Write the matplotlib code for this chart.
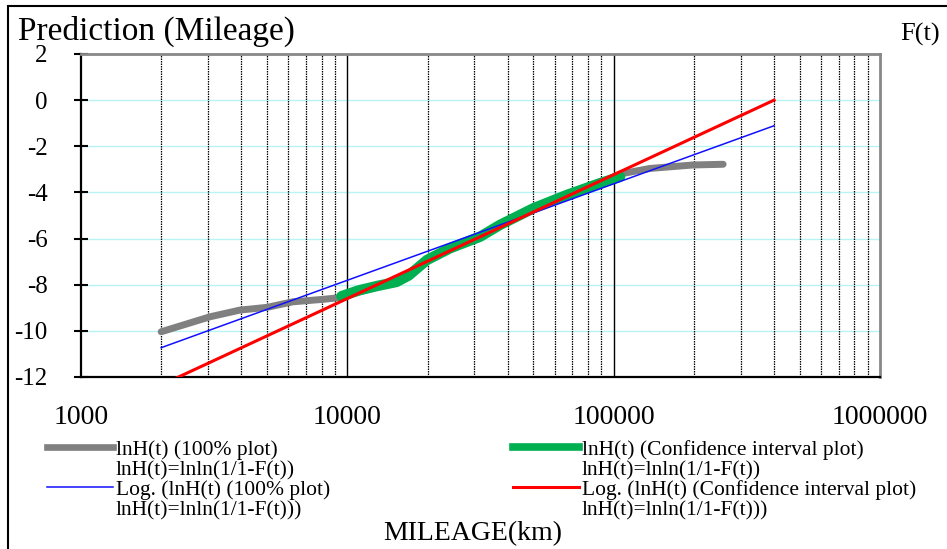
import matplotlib
matplotlib.use("Agg")
import matplotlib.pyplot as plt
from matplotlib.lines import Line2D
from matplotlib.patches import Rectangle
from matplotlib.ticker import FixedLocator, NullFormatter

plt.rcParams['font.family'] = ['Liberation Serif', 'DejaVu Serif']
plt.rcParams['axes.unicode_minus'] = False

# 100% plot (gray)
gray_x = [2000, 3050, 3950, 5000, 6250, 8000, 9400, 12000, 15300, 19900, 24300,
          31500, 37400, 49900, 66700, 88900, 105700, 137000, 198600, 257600]
gray_y = [-10.04, -9.39, -9.10, -8.98, -8.74, -8.64, -8.56, -8.2, -7.85, -6.95, -6.42,
          -5.92, -5.41, -4.69, -4.11, -3.60, -3.20, -2.96, -2.81, -2.78]

# confidence interval plot (green)
green_x = [9500, 11000, 13000, 15300, 17000, 19900, 24300, 31500, 37400, 49900,
           66700, 88900, 105700]
green_y = [-8.50, -8.25, -8.05, -7.88, -7.60, -6.93, -6.42, -5.92, -5.41, -4.69,
           -4.11, -3.60, -3.32]

# log trendlines
blue_x = [2000, 400000]
blue_y = [-10.73, -1.11]
red_x = [2000, 400000]
red_y = [-12.35, 0.0]

labels = [["lnH(t) (100% plot)", "lnH(t)=lnln(1/1-F(t))"],
          ["lnH(t) (Confidence interval plot)", "lnH(t)=lnln(1/1-F(t))"],
          ["Log. (lnH(t) (100% plot)", "lnH(t)=lnln(1/1-F(t)))"],
          ["Log. (lnH(t) (Confidence interval plot)", "lnH(t)=lnln(1/1-F(t)))"]]
y_ticks = [2, 0, -2, -4, -6, -8, -10, -12]
x_ticks = [1000, 10000, 100000, 1000000]

W, H = 947, 549
fig = plt.figure(figsize=(W/100, H/100), dpi=100)
ax = fig.add_axes([81/W, 1-377/H, (880-81)/W, (377-54)/H])

ax.set_xscale('log')
ax.set_xlim(1000, 1000000)
ax.set_ylim(-12, 2)

# grid
for yv in y_ticks[1:-1]:
    ax.axhline(yv, color='#b8f4f4', lw=1, zorder=1)
for dec in [1000, 10000, 100000]:
    for m in range(2, 10):
        ax.axvline(dec*m, color='black', lw=0.9, ls=(0, (1.2, 0.8)), zorder=1)
    if dec > 1000:
        ax.axvline(dec, color='black', lw=1.0, zorder=1)

ax.plot(gray_x, gray_y, color='#808080', lw=5, solid_capstyle='round', zorder=3)
ax.plot(green_x, green_y, color='#00b050', lw=7.5, solid_capstyle='round', zorder=4)
ax.plot(blue_x, blue_y, color='#1010ff', lw=1.1, zorder=5)
ax.plot(red_x, red_y, color='#ff0000', lw=2.2, zorder=6)

ax.xaxis.set_major_locator(FixedLocator(x_ticks))
ax.xaxis.set_minor_locator(FixedLocator([]))
ax.set_xticklabels([str(v) for v in x_ticks])
ax.xaxis.set_minor_formatter(NullFormatter())
ax.tick_params(axis='x', length=0, pad=20, labelsize=20)
ax.set_yticks(y_ticks)
ax.tick_params(axis='y', direction='inout', length=10, width=1.5, pad=19, labelsize=18)

ax.spines['left'].set_linewidth(1.6)
ax.spines['bottom'].set_linewidth(1.6)
for s in ['top', 'right']:
    ax.spines[s].set_color('#888888')
    ax.spines[s].set_linewidth(2)

fig.text(18/W, 1-40/H, "Prediction (Mileage)", fontsize=24, va='baseline', ha='left')
fig.text(900/W, 1-41/H, "F(t)", fontsize=19, va='baseline', ha='left')
fig.text(473/W, 1-540/H, "MILEAGE(km)", fontsize=20, va='baseline', ha='center')

# legend
handles = [('#808080', 4.8), ('#00b050', 5.5), ('#1010ff', 1.1), ('#ff0000', 2.2)]
pos = [(47, 455), (513, 455), (47, 495), (513, 495)]
for (c, w), (px, py), lab in zip(handles, pos, labels):
    fig.add_artist(Line2D([px/W, (px+66)/W], [1-(py-8)/H, 1-(py-8)/H], color=c, lw=w))
    for i, line in enumerate(lab):
        fig.text((px+69)/W, 1-(py+20*i)/H, line, fontsize=15.5, va='baseline', ha='left')

# outer border
fig.add_artist(Rectangle((8/W, -0.05), 1.0, 1-6/H+0.05, transform=fig.transFigure,
                         fill=False, edgecolor='black', lw=1.5))

fig.savefig("out.png", dpi=100)
